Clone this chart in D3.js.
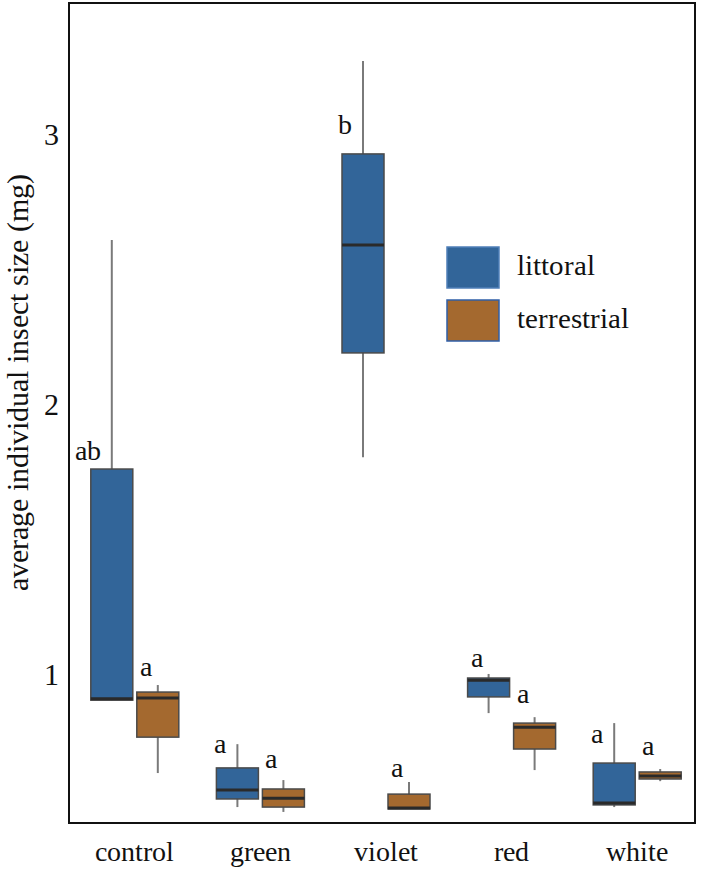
<!DOCTYPE html>
<html>
<head>
<meta charset="utf-8">
<script src="https://cdn.jsdelivr.net/npm/d3@7"></script>
<style>
  @font-face {
    font-family: "ChartSerif";
    src: local("Liberation Serif"), local("LiberationSerif"), local("LiberationSerif-Regular"),
         local("Times New Roman"), local("TimesNewRomanPSMT"), local("Tinos"), local("Tinos-Regular"),
         local("DejaVu Serif"), local("DejaVuSerif"), local("Noto Serif"), local("NotoSerif-Regular"),
         local("Noto Serif CJK SC"), local("NotoSerifCJKsc-Regular");
  }
  html, body { margin: 0; padding: 0; background: #fff; }
  svg { display: block; }
  svg text { font-family: "ChartSerif", "Liberation Serif", "Times New Roman", Tinos, "DejaVu Serif", "Noto Serif", serif !important; fill: #111; }
</style>
</head>
<body>
<script>
// ---------- data ----------
const categories = ["control", "green", "violet", "red", "white"];
const groups = ["littoral", "terrestrial"];
const yTicks = [1, 2, 3];

const littoralMin    = [0.907, 0.511, 1.807, 0.859, 0.511];
const littoralQ1     = [0.907, 0.541, 2.193, 0.919, 0.519];
const littoralMedian = [0.912, 0.574, 2.593, 0.981, 0.526];
const littoralQ3     = [1.763, 0.656, 2.930, 0.989, 0.674];
const littoralMax    = [2.611, 0.744, 3.274, 1.004, 0.822];

const terrestrialMin    = [0.637, 0.493, 0.504, 0.648, 0.607];
const terrestrialQ1     = [0.770, 0.511, 0.504, 0.726, 0.615];
const terrestrialMedian = [0.915, 0.544, 0.508, 0.807, 0.626];
const terrestrialQ3     = [0.937, 0.578, 0.559, 0.822, 0.641];
const terrestrialMax    = [0.963, 0.611, 0.604, 0.844, 0.652];

const littoralLetters    = ["ab", "a", "b", "a", "a"];
const littoralLetterY    = [1.796, 0.711, 3.004, 1.030, 0.748];
const terrestrialLetters = ["a", "a", "a", "a", "a"];
const terrestrialLetterY = [0.996, 0.656, 0.622, 0.896, 0.704];

const yLabel = "average individual insect size (mg)";

// ---------- build ----------
const FONT = '"ChartSerif", "Liberation Serif", "Times New Roman", Tinos, "DejaVu Serif", "Noto Serif", serif';
const series = {
  littoral: {min: littoralMin, q1: littoralQ1, med: littoralMedian, q3: littoralQ3, max: littoralMax,
             letters: littoralLetters, letterY: littoralLetterY},
  terrestrial: {min: terrestrialMin, q1: terrestrialQ1, med: terrestrialMedian, q3: terrestrialQ3, max: terrestrialMax,
             letters: terrestrialLetters, letterY: terrestrialLetterY}
};
const colors = {littoral: "#326599", terrestrial: "#a4692f"};

const rows = [];
groups.forEach(g => categories.forEach((c, i) => {
  const s = series[g];
  rows.push({cat: c, group: g, min: s.min[i], q1: s.q1[i], med: s.med[i], q3: s.q3[i], max: s.max[i],
             letter: s.letters[i], letterY: s.letterY[i]});
}));

const W = 702, H = 869;
const frame = {left: 69, right: 695, top: 3, bottom: 823};

const svg = d3.select("body").append("svg").attr("width", W).attr("height", H)
  .style("font-family", FONT);

const x = d3.scaleBand().domain(categories).range([72, 700]).padding(0);
const xg = d3.scaleBand().domain(groups).range([-46, 46]).padding(0);
const y = d3.scaleLinear().domain([0.452, 3.489]).range([frame.bottom, frame.top]);

const boxW = xg.bandwidth() - 4;
const cx = d => x(d.cat) + x.bandwidth() / 2 + xg(d.group) + xg.bandwidth() / 2;

// whiskers
svg.append("g").selectAll("line").data(rows).join("line")
  .attr("x1", cx).attr("x2", cx)
  .attr("y1", d => y(d.max)).attr("y2", d => y(d.min))
  .attr("stroke", "#7a7a7a").attr("stroke-width", 2);

// boxes
svg.append("g").selectAll("rect").data(rows).join("rect")
  .attr("x", d => cx(d) - boxW / 2).attr("width", boxW)
  .attr("y", d => y(d.q3)).attr("height", d => y(d.q1) - y(d.q3))
  .attr("fill", d => colors[d.group])
  .attr("stroke", "#4a4a4a").attr("stroke-width", 1.5);

// medians
svg.append("g").selectAll("line").data(rows).join("line")
  .attr("x1", d => cx(d) - boxW / 2).attr("x2", d => cx(d) + boxW / 2)
  .attr("y1", d => y(d.med)).attr("y2", d => y(d.med))
  .attr("stroke", "#2a2a2a").attr("stroke-width", 3);

// significance letters
svg.append("g").selectAll("text").data(rows).join("text")
  .attr("x", d => cx(d) - (d.max > d.letterY ? 11 : 6))
  .attr("y", d => y(d.letterY))
  .attr("text-anchor", "end")
  .attr("font-size", 28)
  .style("font-family", FONT)
  .text(d => d.letter);

// frame
svg.append("rect")
  .attr("x", frame.left).attr("y", frame.top)
  .attr("width", frame.right - frame.left).attr("height", frame.bottom - frame.top)
  .attr("fill", "none").attr("stroke", "#111").attr("stroke-width", 2);

// y axis (labels only, no tick marks)
const yAxis = svg.append("g").attr("transform", `translate(${frame.left},0)`)
  .call(d3.axisLeft(y).tickValues(yTicks).tickSize(0).tickPadding(10).tickFormat(d3.format("d")));
yAxis.attr("font-family", null);
yAxis.select(".domain").remove();
yAxis.selectAll("text").attr("font-size", 30).style("font-family", FONT).attr("fill", "#111");

// x axis labels
const xAxis = svg.append("g").attr("transform", `translate(0,${frame.bottom})`)
  .call(d3.axisBottom(x).tickSize(0));
xAxis.attr("font-family", null);
xAxis.select(".domain").remove();
xAxis.selectAll("text").attr("y", 38).attr("dy", 0)
  .attr("font-size", 28).style("font-family", FONT).attr("fill", "#111");

// y label
svg.append("text")
  .attr("transform", `translate(28,382) rotate(-90)`)
  .attr("text-anchor", "middle")
  .attr("font-size", 30)
  .style("font-family", FONT)
  .text(yLabel);

// legend
const legend = svg.append("g");
groups.forEach((g, i) => {
  const top = 247 + i * 53;
  legend.append("rect")
    .attr("x", 447).attr("y", top).attr("width", 52).attr("height", 41)
    .attr("fill", colors[g]).attr("stroke", i === 0 ? "#4f7fb8" : "#2f5fa8").attr("stroke-width", 1.5);
  legend.append("text")
    .attr("x", 517).attr("y", top + 28)
    .attr("font-size", 28.5)
    .style("font-family", FONT)
    .text(g);
});
</script>
</body>
</html>
